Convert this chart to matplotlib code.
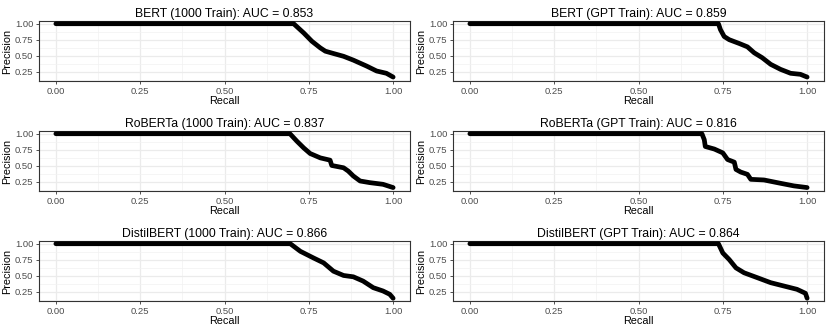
import matplotlib
matplotlib.use("Agg")
import matplotlib.pyplot as plt
import numpy as np

plt.rcParams["font.family"] = ["Liberation Sans", "DejaVu Sans"]

titles = [
    "BERT (1000 Train): AUC = 0.853",
    "BERT (GPT Train): AUC = 0.859",
    "RoBERTa (1000 Train): AUC = 0.837",
    "RoBERTa (GPT Train): AUC = 0.816",
    "DistilBERT (1000 Train): AUC = 0.866",
    "DistilBERT (GPT Train): AUC = 0.864",
]

# precision-recall curves (flat at 1.0 until the first drop)
bert_1000_recall = [0.0, 0.705, 0.735, 0.759, 0.784, 0.799, 0.823, 0.853, 0.882, 0.921, 0.951, 0.98, 1.0]
bert_1000_prec = [1.0, 1.0, 0.855, 0.726, 0.622, 0.57, 0.534, 0.49, 0.43, 0.338, 0.26, 0.224, 0.165]

bert_gpt_recall = [0.0, 0.737, 0.743, 0.754, 0.769, 0.799, 0.823, 0.843, 0.867, 0.892, 0.921, 0.951, 0.98, 1.0]
bert_gpt_prec = [1.0, 1.0, 0.907, 0.80, 0.75, 0.69, 0.638, 0.545, 0.467, 0.364, 0.286, 0.224, 0.208, 0.165]

roberta_1000_recall = [0.0, 0.694, 0.715, 0.735, 0.754, 0.784, 0.813, 0.818, 0.853, 0.867, 0.882, 0.902, 0.931, 0.97, 1.0]
roberta_1000_prec = [1.0, 1.0, 0.881, 0.777, 0.69, 0.622, 0.586, 0.503, 0.467, 0.415, 0.338, 0.26, 0.234, 0.208, 0.157]

roberta_gpt_recall = [0.0, 0.688, 0.695, 0.698, 0.725, 0.75, 0.764, 0.784, 0.789, 0.803, 0.823, 0.833, 0.872, 0.921, 0.961, 1.0]
roberta_gpt_prec = [1.0, 1.0, 0.907, 0.80, 0.76, 0.70, 0.596, 0.555, 0.441, 0.40, 0.364, 0.286, 0.276, 0.224, 0.183, 0.157]

distil_1000_recall = [0.0, 0.695, 0.725, 0.764, 0.794, 0.823, 0.853, 0.882, 0.911, 0.941, 0.97, 0.99, 1.0]
distil_1000_prec = [1.0, 1.0, 0.881, 0.777, 0.70, 0.57, 0.503, 0.482, 0.415, 0.312, 0.26, 0.208, 0.146]

distil_gpt_recall = [0.0, 0.737, 0.75, 0.769, 0.789, 0.813, 0.853, 0.892, 0.931, 0.97, 0.995, 1.0]
distil_gpt_prec = [1.0, 1.0, 0.855, 0.752, 0.622, 0.545, 0.467, 0.39, 0.338, 0.286, 0.224, 0.146]

curves = [
    (bert_1000_recall, bert_1000_prec),
    (bert_gpt_recall, bert_gpt_prec),
    (roberta_1000_recall, roberta_1000_prec),
    (roberta_gpt_recall, roberta_gpt_prec),
    (distil_1000_recall, distil_1000_prec),
    (distil_gpt_recall, distil_gpt_prec),
]

fig = plt.figure(figsize=(8.3, 3.31), dpi=100)

lefts = [39 / 830, 453 / 830]
bottoms = [(331 - 81) / 331, (331 - 191) / 331, (331 - 301) / 331]
w = 371 / 830
h = 60 / 331

for i, ((rec, prec), title) in enumerate(zip(curves, titles)):
    ax = fig.add_axes([lefts[i % 2], bottoms[i // 2], w, h])
    ax.plot(rec, prec, color="black", lw=3.4, solid_capstyle="round",
            solid_joinstyle="round", zorder=3)
    ymin, ymax = 0.146, 1.0
    pad = (ymax - ymin) * 0.05
    ax.set_xlim(-0.05, 1.05)
    ax.set_ylim(ymin - pad, ymax + pad)
    ax.set_xticks([0, 0.25, 0.5, 0.75, 1.0])
    ax.set_xticklabels(["0.00", "0.25", "0.50", "0.75", "1.00"])
    ax.set_yticks([0.25, 0.5, 0.75, 1.0])
    ax.set_yticklabels(["0.25", "0.50", "0.75", "1.00"])
    ax.set_xticks([0.125, 0.375, 0.625, 0.875], minor=True)
    ax.set_yticks([0.125, 0.375, 0.625, 0.875], minor=True)
    ax.grid(which="major", color="#EBEBEB", lw=0.9)
    ax.grid(which="minor", color="#F2F2F2", lw=0.5)
    ax.set_axisbelow(True)
    for s in ax.spines.values():
        s.set_color("#333333")
        s.set_linewidth(0.8)
    ax.tick_params(which="major", length=2.5, width=0.6, color="#333333",
                   labelsize=6.8, labelcolor="#4D4D4D", pad=1.5)
    ax.tick_params(which="minor", length=0)
    ax.set_xlabel("Recall", fontsize=7.8, labelpad=0.5)
    ax.set_ylabel("Precision", fontsize=7.8, labelpad=2)
    ax.set_title(title, fontsize=8.8, pad=3)

fig.savefig("out.png", dpi=100)
